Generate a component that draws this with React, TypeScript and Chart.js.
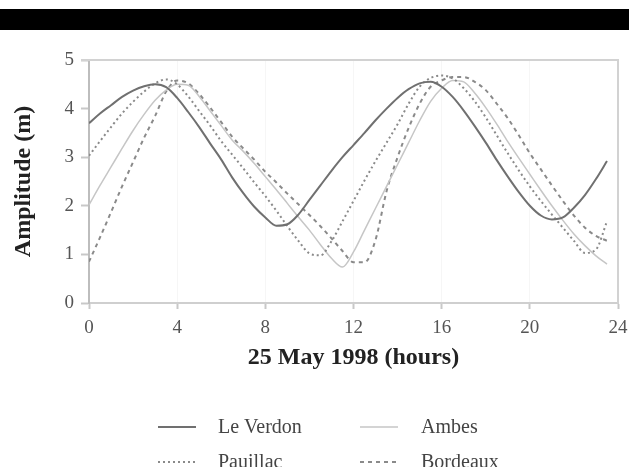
import React, { useEffect, useRef } from "react";
import { Chart, registerables } from "chart.js";

Chart.register(...registerables);

// ---- data ----
const HOURS = [
  0, 0.5, 1, 1.5, 2, 2.5, 3, 3.5, 4, 4.5, 5, 5.5, 6, 6.5, 7, 7.5, 8, 8.5, 9, 9.5, 10, 10.5, 11, 11.5,
  12, 12.5, 13, 13.5, 14, 14.5, 15, 15.5, 16, 16.5, 17, 17.5, 18, 18.5, 19, 19.5, 20, 20.5, 21, 21.5,
  22, 22.5, 23, 23.5,
];

const LE_VERDON = [
  3.7, 3.9, 4.07, 4.24, 4.37, 4.46, 4.5, 4.44, 4.22, 3.93, 3.62, 3.28, 2.95, 2.58, 2.26, 1.98, 1.76,
  1.59, 1.62, 1.82, 2.12, 2.42, 2.72, 3.0, 3.25, 3.5, 3.76, 4.0, 4.22, 4.4, 4.52, 4.55, 4.45, 4.24,
  3.96, 3.64, 3.3, 2.94, 2.6, 2.28, 2.0, 1.8, 1.72, 1.76, 1.96, 2.22, 2.55, 2.92,
];

const PAUILLAC = [
  3.03, 3.33, 3.62, 3.9, 4.14, 4.35, 4.52, 4.6, 4.5, 4.25, 3.95, 3.65, 3.33, 3.05, 2.77, 2.48, 2.2,
  1.9, 1.58, 1.28, 1.02, 0.98, 1.27, 1.68, 2.1, 2.52, 2.92, 3.3, 3.68, 4.1, 4.45, 4.63, 4.68, 4.62,
  4.42, 4.15, 3.82, 3.45, 3.08, 2.73, 2.4, 2.1, 1.82, 1.55, 1.28, 1.03, 1.1, 1.68,
];

const AMBES = [
  2.02, 2.42, 2.8, 3.18, 3.55, 3.88, 4.17, 4.38, 4.5, 4.48, 4.25, 3.95, 3.65, 3.35, 3.12, 2.87, 2.6,
  2.33, 2.05, 1.77, 1.5, 1.2, 0.92, 0.74, 1.05, 1.5, 1.95, 2.4, 2.85, 3.3, 3.75, 4.15, 4.42, 4.58,
  4.55, 4.32, 4.02, 3.68, 3.32, 2.98, 2.65, 2.32, 2.0, 1.7, 1.42, 1.18, 0.97, 0.8,
];

const BORDEAUX = [
  0.85, 1.35, 1.87, 2.4, 2.9, 3.4, 3.85, 4.35, 4.58, 4.52, 4.3, 4.02, 3.72, 3.42, 3.18, 2.95, 2.7,
  2.48, 2.25, 2.03, 1.81, 1.58, 1.33, 1.07, 0.84, 0.84, 1.3, 2.3, 3.0, 3.6, 4.1, 4.45, 4.58, 4.65,
  4.65, 4.55, 4.38, 4.1, 3.8, 3.45, 3.08, 2.75, 2.42, 2.1, 1.8, 1.55, 1.38, 1.28,
];

const SERIES_NAMES = ["Le Verdon", "Pauillac", "Ambes", "Bordeaux"];
const X_MIN = 0;
const X_MAX = 24;
const X_STEP = 4;
const Y_MIN = 0;
const Y_MAX = 5;
const Y_STEP = 1;
const X_TITLE = "25 May 1998 (hours)";
const Y_TITLE = "Amplitude (m)";

const FONT = '"Liberation Serif", "Times New Roman", serif';

const STYLES = [
  { color: "#707070", width: 2, dash: [] as number[] },
  { color: "#8a8a8a", width: 2, dash: [2, 3] },
  { color: "#c6c6c6", width: 1.5, dash: [] as number[] },
  { color: "#8a8a8a", width: 2, dash: [4, 4] },
];

const framePlugin = {
  id: "frame",
  beforeDatasetsDraw(chart: any) {
    const { ctx, chartArea } = chart;
    ctx.save();
    ctx.strokeStyle = "#d2d2d2";
    ctx.lineWidth = 2;
    ctx.beginPath();
    ctx.moveTo(chartArea.left - 8, chartArea.top);
    ctx.lineTo(chartArea.right, chartArea.top);
    ctx.lineTo(chartArea.right, chartArea.bottom);
    ctx.stroke();
    ctx.restore();
  },
};

const legendPlugin = {
  id: "customLegend",
  afterDraw(chart: any) {
    const { ctx } = chart;
    const order = [0, 2, 1, 3];
    const colLine = [158, 360];
    const colText = [218, 421];
    const rowY = [427, 462];
    ctx.save();
    order.forEach((dsIndex, i) => {
      const col = i % 2;
      const row = Math.floor(i / 2);
      const ds = chart.data.datasets[dsIndex];
      const y = rowY[row];
      ctx.strokeStyle = ds.borderColor;
      ctx.lineWidth = ds.borderWidth;
      ctx.setLineDash(ds.borderDash || []);
      ctx.beginPath();
      ctx.moveTo(colLine[col], y);
      ctx.lineTo(colLine[col] + 38, y);
      ctx.stroke();
      ctx.setLineDash([]);
      ctx.fillStyle = "#444";
      ctx.font = `20px ${FONT}`;
      ctx.textBaseline = "middle";
      ctx.textAlign = "left";
      ctx.fillText(ds.label, colText[col], y + 1);
    });
    ctx.restore();
  },
};

export default function App() {
  const canvasRef = useRef<HTMLCanvasElement | null>(null);

  useEffect(() => {
    if (!canvasRef.current) return;
    const seriesValues = [LE_VERDON, PAUILLAC, AMBES, BORDEAUX];
    const datasets = seriesValues.map((vals, i) => ({
      label: SERIES_NAMES[i],
      data: HOURS.map((h, j) => ({ x: h, y: vals[j] })),
      borderColor: STYLES[i].color,
      borderWidth: STYLES[i].width,
      borderDash: STYLES[i].dash,
      pointRadius: 0,
      fill: false,
      cubicInterpolationMode: "monotone" as const,
    }));

    const chart = new Chart(canvasRef.current, {
      type: "line",
      data: { datasets },
      plugins: [framePlugin, legendPlugin],
      options: {
        animation: false,
        responsive: false,
        layout: { padding: { left: 0, top: 60, right: 11, bottom: 95 } },
        plugins: {
          legend: { display: false },
          tooltip: { enabled: false },
        },
        scales: {
          x: {
            type: "linear",
            min: X_MIN,
            max: X_MAX,
            afterFit: (s: any) => {
              s.height = 69;
              s.paddingLeft = 0;
              s.paddingRight = 0;
            },
            ticks: {
              stepSize: X_STEP,
              autoSkip: false,
              maxRotation: 0,
              padding: 8,
              color: "#555",
              font: { family: FONT, size: 19 },
            },
            grid: {
              drawOnChartArea: true,
              color: "rgba(0,0,0,0.035)",
              tickColor: "#c8c8c8",
              tickLength: 6,
              tickWidth: 2,
            },
            border: { color: "#cfcfcf", width: 2 },
            title: {
              display: true,
              text: X_TITLE,
              color: "#222",
              font: { family: FONT, size: 24, weight: "bold" },
              padding: { top: 0, bottom: 0 },
            },
          },
          y: {
            min: Y_MIN,
            max: Y_MAX,
            afterFit: (s: any) => {
              s.width = 89;
              s.paddingTop = 0;
              s.paddingBottom = 0;
            },
            ticks: {
              stepSize: Y_STEP,
              padding: 7,
              color: "#555",
              font: { family: FONT, size: 19 },
            },
            grid: {
              drawOnChartArea: false,
              tickColor: "#c8c8c8",
              tickLength: 8,
              tickWidth: 2,
            },
            border: { color: "#bdbdbd", width: 2 },
            title: {
              display: true,
              text: Y_TITLE,
              color: "#222",
              font: { family: FONT, size: 24, weight: "bold" },
              padding: { top: 9, bottom: 0 },
            },
          },
        },
      },
    });
    return () => chart.destroy();
  }, []);

  return (
    <div
      style={{
        position: "absolute",
        left: 0,
        top: 0,
        width: 629,
        height: 467,
        background: "#fff",
        overflow: "hidden",
      }}
    >
      <div
        style={{
          position: "absolute",
          left: 0,
          top: 9,
          width: 629,
          height: 21,
          background: "#000",
        }}
      />
      <canvas
        ref={canvasRef}
        width={629}
        height={467}
        style={{ position: "absolute", left: 0, top: 0, display: "block" }}
      />
    </div>
  );
}
